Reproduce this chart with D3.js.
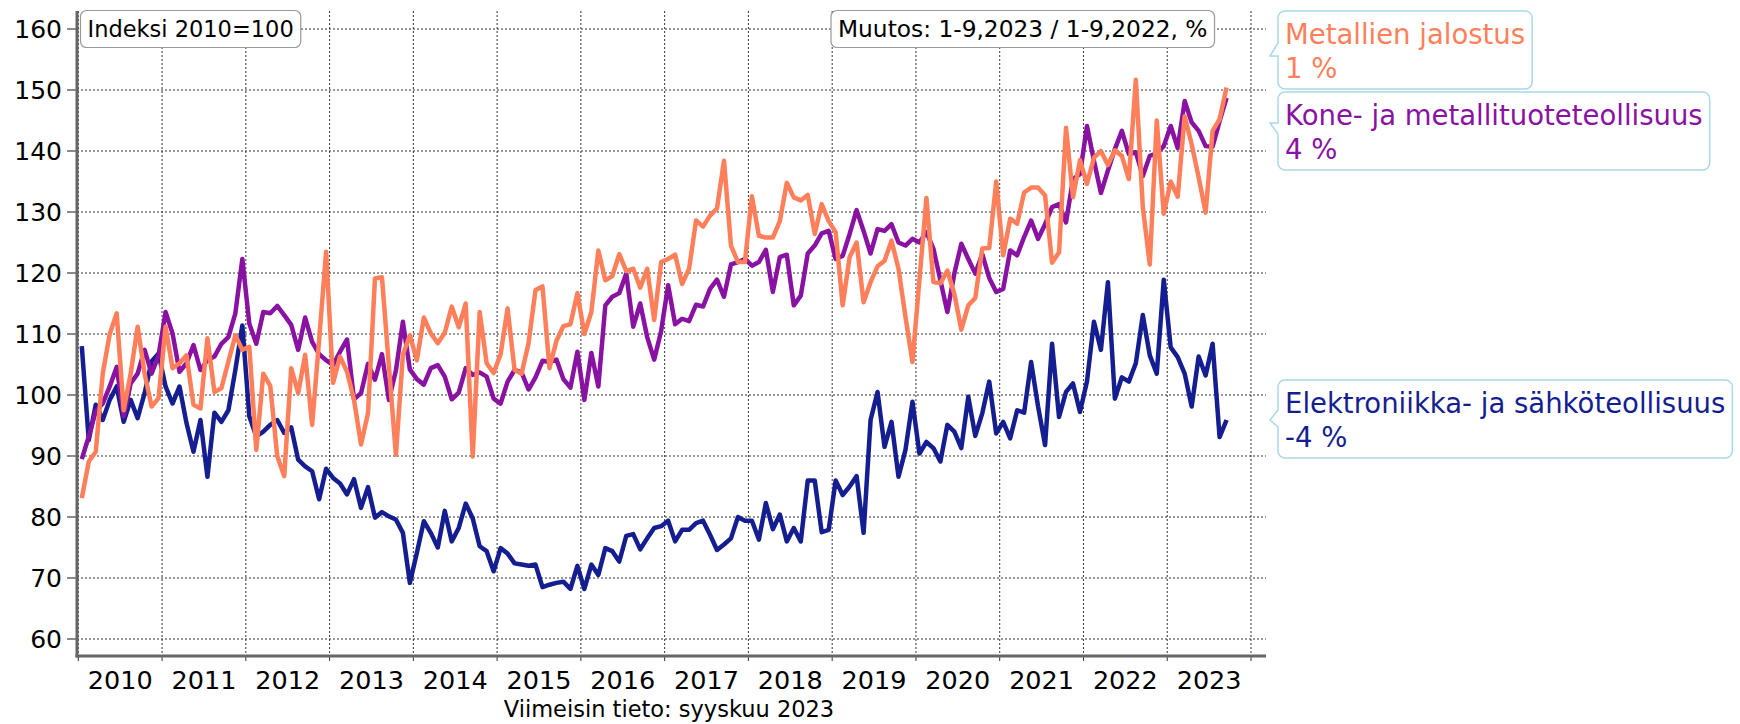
<!DOCTYPE html>
<html>
<head>
<meta charset="utf-8">
<script src="https://cdn.jsdelivr.net/npm/d3@7"></script>
<style>
  body { margin: 0; background: #fff; }
  text { font-family: "DejaVu Sans", Verdana, sans-serif; }
</style>
</head>
<body>
<div id="chart"></div>
<script>
// monthly index values, 2010=100, from jan 2010 to sep 2023
const startYear = 2010;

const elektroniikka = [
  108.0, 92.6, 98.4, 95.9, 99.2, 101.4, 95.6, 99.2, 96.2, 100.3, 105.5, 106.8,
  101.4, 98.6, 101.4, 95.4, 90.7, 95.9, 86.6, 97.1, 95.6, 97.5, 104.1, 111.4,
  96.5, 93.2, 94.0, 95.1, 95.9, 93.8, 94.7, 89.4, 88.3, 87.5, 82.9, 87.9,
  86.4, 85.5, 83.7, 86.2, 81.5, 84.9, 79.9, 80.8, 80.1, 79.6, 77.4, 69.2,
  74.1, 79.3, 77.4, 75.0, 81.0, 76.0, 78.2, 82.2, 79.8, 75.2, 74.4, 71.1,
  74.9, 74.0, 72.4, 72.2, 72.0, 72.2, 68.5, 68.9, 69.2, 69.4, 68.2, 72.0,
  68.2, 72.2, 70.5, 74.9, 74.4, 72.7, 76.9, 77.2, 74.7, 76.5, 78.2, 78.5,
  79.4, 76.0, 77.9, 77.9, 79.0, 79.4, 77.1, 74.6, 75.5, 76.5, 80.0, 79.4,
  79.4, 76.3, 82.3, 78.0, 80.4, 76.0, 78.2, 76.0, 86.0, 86.0, 77.5, 77.9,
  86.0, 83.6, 85.0, 86.7, 77.4, 95.9, 100.5, 91.5, 95.6, 86.6, 91.0, 98.9,
  90.4, 92.3, 91.3, 89.1, 95.1, 94.0, 91.3, 99.7, 93.3, 97.0, 102.2, 93.7,
  95.6, 92.9, 97.5, 97.1, 105.4, 98.1, 91.8, 108.4, 96.4, 100.5, 101.9, 97.2,
  102.2, 112.0, 107.4, 118.5, 99.4, 102.9, 102.2, 105.2, 113.1, 106.5, 103.5, 118.9,
  107.8, 106.2, 103.5, 98.1, 106.3, 103.2, 108.4, 93.1, 95.9
];

const koneJaMetalli = [
  89.5, 93.2, 97.3, 98.6, 101.4, 104.6, 96.5, 101.9, 103.5, 107.4, 103.5, 106.5,
  113.6, 110.1, 103.8, 105.2, 108.2, 104.1, 105.7, 106.3, 108.4, 109.5, 113.4, 122.3,
  111.7, 108.4, 113.6, 113.4, 114.6, 113.1, 111.5, 107.4, 112.7, 108.7, 106.7, 105.7,
  104.9, 107.1, 109.1, 99.3, 100.3, 105.1, 102.5, 106.7, 99.2, 104.0, 112.0, 104.2,
  102.6, 101.7, 104.4, 104.9, 103.0, 99.3, 100.4, 104.4, 103.3, 103.7, 103.0, 99.4,
  98.6, 102.2, 104.1, 103.7, 100.9, 102.9, 105.6, 105.4, 105.8, 102.6, 101.2, 107.1,
  99.2, 106.9, 101.4, 114.7, 116.1, 116.7, 119.9, 111.2, 115.0, 109.5, 105.8, 110.5,
  118.0, 111.6, 112.5, 112.1, 114.8, 114.5, 117.4, 118.9, 116.1, 121.4, 121.8, 122.3,
  121.2, 121.8, 123.8, 116.9, 122.6, 123.0, 114.7, 116.3, 123.2, 124.5, 126.5, 126.9,
  122.3, 122.8, 126.4, 130.3, 126.9, 123.2, 127.2, 126.9, 128.0, 125.0, 124.5, 125.6,
  125.0, 126.7, 124.0, 118.8, 113.6, 119.9, 124.8, 122.3, 119.9, 123.1, 119.2, 116.9,
  117.4, 123.7, 122.9, 125.9, 128.6, 125.6, 128.0, 130.8, 131.3, 128.3, 135.4, 136.2,
  144.1, 138.4, 133.1, 136.8, 140.3, 143.3, 139.5, 139.8, 135.9, 139.2, 139.6, 140.8,
  144.1, 140.5, 148.2, 144.7, 143.3, 140.8, 140.7, 144.9, 148.7
];

const metallienJalostus = [
  83.1, 89.1, 90.7, 103.5, 110.0, 113.4, 97.5, 103.5, 111.2, 103.5, 98.1, 99.5,
  111.2, 104.4, 105.2, 106.5, 98.4, 97.8, 109.3, 100.5, 101.1, 105.5, 109.8, 107.4,
  107.9, 91.0, 103.5, 101.5, 90.0, 86.7, 104.4, 100.3, 106.6, 95.1, 109.0, 123.5,
  102.0, 106.3, 103.8, 99.2, 91.9, 97.0, 119.1, 119.3, 104.7, 90.2, 106.6, 109.8,
  105.7, 112.7, 110.1, 108.5, 110.2, 114.5, 111.1, 115.0, 89.9, 113.6, 105.2, 103.6,
  106.7, 114.2, 104.1, 103.5, 108.5, 117.2, 117.8, 104.4, 108.9, 111.3, 111.6, 116.7,
  110.0, 113.6, 123.7, 118.8, 119.5, 123.1, 120.3, 120.7, 117.6, 120.7, 112.3, 121.8,
  122.3, 123.0, 118.2, 120.7, 128.6, 127.6, 129.4, 130.6, 138.4, 124.5, 121.8, 121.8,
  132.6, 126.1, 125.8, 125.8, 128.5, 134.8, 132.4, 131.9, 132.8, 126.4, 131.3, 128.5,
  126.7, 114.7, 122.6, 125.0, 115.2, 118.5, 121.1, 122.0, 125.3, 120.7, 112.8, 105.4,
  118.9, 132.3, 118.5, 118.3, 120.4, 116.6, 110.7, 114.7, 115.9, 124.0, 124.1, 135.0,
  122.9, 128.9, 128.1, 133.2, 134.0, 134.0, 132.7, 121.7, 123.4, 143.8, 132.4, 138.5,
  134.6, 138.9, 140.0, 137.7, 140.1, 139.2, 135.4, 151.7, 130.8, 121.4, 145.0, 129.7,
  135.0, 132.5, 145.7, 141.1, 135.7, 129.9, 143.3, 145.2, 150.4
];

const seriesNames = ["Elektroniikka- ja sähköteollisuus", "Kone- ja metallituoteteollisuus", "Metallien jalostus"];
const seriesChanges = ["-4 %", "4 %", "1 %"];
const seriesColors = ["#151e91", "#8a12a3", "#ff7f5b"];

const yearTicks = d3.range(2010, 2025);
const yTicks = d3.range(60, 161, 10);

const W = 1740, H = 724;

const svg = d3.select("#chart")
  .append("svg")
    .attr("width", W)
    .attr("height", H);

// scales: x in decimal years, points sit at mid month
const x = d3.scaleLinear().domain([2010, 2024]).range([78.3, 1251]);
const y = d3.scaleLinear().domain([60, 160]).range([639, 29]);

const plotLeft = 77, plotRight = 1266, plotTop = 11, plotBottom = 656;

// grid
svg.append("g")
  .selectAll("line")
  .data(yTicks)
  .join("line")
    .attr("x1", plotLeft).attr("x2", plotRight)
    .attr("y1", d => y(d)).attr("y2", d => y(d))
    .attr("stroke", "#333")
    .attr("stroke-dasharray", "2,2");

svg.append("g")
  .selectAll("line")
  .data(yearTicks)
  .join("line")
    .attr("x1", d => x(d)).attr("x2", d => x(d))
    .attr("y1", plotTop).attr("y2", plotBottom)
    .attr("stroke", "#333")
    .attr("stroke-dasharray", "2,2");

// y axis
svg.append("g")
  .selectAll("line")
  .data(yTicks)
  .join("line")
    .attr("x1", 67).attr("x2", plotLeft)
    .attr("y1", d => y(d)).attr("y2", d => y(d))
    .attr("stroke", "#666").attr("stroke-width", 1.5);

svg.append("g")
  .selectAll("text")
  .data(yTicks)
  .join("text")
    .attr("x", 62)
    .attr("y", d => y(d) + 9)
    .attr("text-anchor", "end")
    .attr("font-size", 25)
    .attr("fill", "#000")
    .text(d => d);

svg.append("line")
  .attr("x1", plotLeft).attr("x2", plotLeft)
  .attr("y1", plotTop).attr("y2", plotBottom + 1.5)
  .attr("stroke", "#666").attr("stroke-width", 3);

// x axis
svg.append("g")
  .selectAll("line")
  .data(yearTicks)
  .join("line")
    .attr("x1", d => x(d)).attr("x2", d => x(d))
    .attr("y1", plotBottom).attr("y2", plotBottom + 5)
    .attr("stroke", "#333").attr("stroke-width", 1);

svg.append("line")
  .attr("x1", plotLeft - 1.5).attr("x2", plotRight)
  .attr("y1", plotBottom).attr("y2", plotBottom)
  .attr("stroke", "#666").attr("stroke-width", 3);

svg.append("g")
  .selectAll("text")
  .data(yearTicks.slice(0, -1))
  .join("text")
    .attr("x", d => x(d + 0.5))
    .attr("y", 689)
    .attr("text-anchor", "middle")
    .attr("font-size", 25.5)
    .attr("fill", "#000")
    .text(d => d);

svg.append("text")
  .attr("x", 669)
  .attr("y", 717)
  .attr("text-anchor", "middle")
  .attr("font-size", 22.5)
  .attr("fill", "#000")
  .text("Viimeisin tieto: syyskuu 2023");

// lines
const allSeries = [elektroniikka, koneJaMetalli, metallienJalostus];
const line = d3.line()
  .x((d, i) => x(startYear + (i + 0.5) / 12))
  .y(d => y(d));

svg.append("g")
  .selectAll("path")
  .data(allSeries)
  .join("path")
    .attr("d", d => line(d))
    .attr("fill", "none")
    .attr("stroke", (d, i) => seriesColors[i])
    .attr("stroke-width", 4.5)
    .attr("stroke-linejoin", "round");

// info boxes at top
function infoBox(x0, label, size) {
  const g = svg.append("g");
  const t = g.append("text")
    .attr("x", x0 + 7)
    .attr("y", 37)
    .attr("font-size", size)
    .attr("fill", "#000")
    .text(label);
  const w = t.node().getComputedTextLength();
  g.insert("rect", "text")
    .attr("x", x0).attr("y", 10.5)
    .attr("width", w + 14).attr("height", 37)
    .attr("rx", 6)
    .attr("fill", "#fff")
    .attr("stroke", "#999")
    .attr("stroke-width", 1.2);
}
infoBox(80.5, "Indeksi 2010=100", 22.5);
infoBox(831, "Muutos: 1-9,2023 / 1-9,2022, %", 23.3);

// callouts on the right
const callouts = [
  {top: 380, h: 78, tip: [410, 420, 427]},
  {top: 92, h: 78, tip: [123, 123, 134]},
  {top: 11, h: 78, tip: [43, 56, 56]}
];

function bubblePath(x0, y0, w, h, r, tip) {
  const p = d3.path();
  p.moveTo(x0 + r, y0);
  p.lineTo(x0 + w - r, y0);
  p.arcTo(x0 + w, y0, x0 + w, y0 + r, r);
  p.lineTo(x0 + w, y0 + h - r);
  p.arcTo(x0 + w, y0 + h, x0 + w - r, y0 + h, r);
  p.lineTo(x0 + r, y0 + h);
  p.arcTo(x0, y0 + h, x0, y0 + h - r, r);
  p.lineTo(x0, tip[2]);
  p.lineTo(x0 - 8, tip[1]);
  p.lineTo(x0, tip[0]);
  p.lineTo(x0, y0 + r);
  p.arcTo(x0, y0, x0 + r, y0, r);
  p.closePath();
  return p.toString();
}

callouts.forEach((c, i) => {
  const g = svg.append("g");
  const t1 = g.append("text")
    .attr("x", 1285)
    .attr("y", c.top + 33)
    .attr("font-size", 27.5)
    .attr("fill", seriesColors[i])
    .text(seriesNames[i]);
  g.append("text")
    .attr("x", 1285)
    .attr("y", c.top + 67)
    .attr("font-size", 27.5)
    .attr("fill", seriesColors[i])
    .text(seriesChanges[i]);
  const w = Math.min(t1.node().getComputedTextLength() + 14, W - 1278 - 2);
  g.insert("path", "text")
    .attr("d", bubblePath(1278, c.top, w, c.h, 7, c.tip))
    .attr("fill", "#fff")
    .attr("stroke", "#a9d9e8")
    .attr("stroke-width", 1.5);
});
</script>
</body>
</html>
